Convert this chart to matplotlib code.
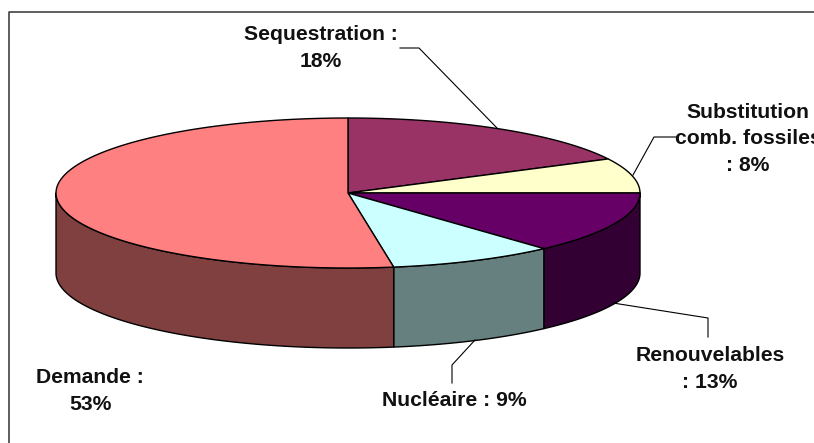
import numpy as np
import matplotlib
matplotlib.use("Agg")
import matplotlib.pyplot as plt
from matplotlib.patches import Polygon

# shares as they look on the picture, clockwise from 12 o'clock
names = ["Sequestration", "Substitution", "Renouvelables", "Nucleaire", "Demande"]
shares = [17.5, 7.5, 13.3, 9.2, 52.5]
top_colors = ["#993366", "#FFFFCC", "#660066", "#CCFFFF", "#FF8080"]
side_colors = ["#4D1A33", "#808066", "#330033", "#668080", "#804040"]
labels = ["Sequestration :\n18%", "Substitution\ncomb. fossiles\n: 8%",
          "Renouvelables\n: 13%", "Nucléaire : 9%", "Demande :\n53%"]

# pie geometry, in pixels
cx, cy = 348, 193
rx, ry = 292, 75
depth = 80

label_pos = [(321, 48), (748, 139), (710, 369), (454, 401), (90, 391)]
leaders = [[(400, 48), (419, 48), (497, 128)],
           [(677, 137), (654, 137), (633, 175)],
           [(708, 337), (708, 318), (613, 303)],
           [(452, 383), (452, 365), (475, 340)]]


def rim(a0, a1, dy=0):
    t = np.radians(np.linspace(a0, a1, 120))
    return np.column_stack([cx + rx*np.sin(t), cy + dy - ry*np.cos(t)])


def main():
    plt.rcParams['font.family'] = ['Liberation Sans', 'DejaVu Sans']

    fig = plt.figure(figsize=(8.14, 4.43), dpi=100)
    ax = fig.add_axes([0, 0, 1, 1])
    ax.set_xlim(0, 814)
    ax.set_ylim(443, 0)
    ax.axis("off")

    # frame runs off the right and bottom of the picture
    ax.plot([9, 9, 814], [443, 11.5, 11.5], color="#333333", lw=1.1)

    edges = 360*np.cumsum([0] + shares)/sum(shares)

    # side wall, only the front half of the disc shows
    for i in range(len(shares)):
        a0, a1 = max(edges[i], 90), min(edges[i+1], 270)
        if a1 <= a0:
            continue
        pts = np.vstack([rim(a0, a1), rim(a0, a1, depth)[::-1]])
        ax.add_patch(Polygon(pts, closed=True, fc=side_colors[i], ec="black", lw=1, joinstyle="round"))

    # top face
    for i in range(len(shares)):
        pts = np.vstack([[(cx, cy)], rim(edges[i], edges[i+1])])
        ax.add_patch(Polygon(pts, closed=True, fc=top_colors[i], ec="black", lw=1, joinstyle="round"))

    for line in leaders:
        xs, ys = zip(*line)
        ax.plot(xs, ys, color="black", lw=0.8)

    for txt, (x, y) in zip(labels, label_pos):
        ax.text(x, y, txt, ha="center", va="center", fontsize=15.2, fontweight="bold",
                color="#111111", linespacing=1.47, clip_on=True)

    fig.savefig("out.png", dpi=100)


main()
